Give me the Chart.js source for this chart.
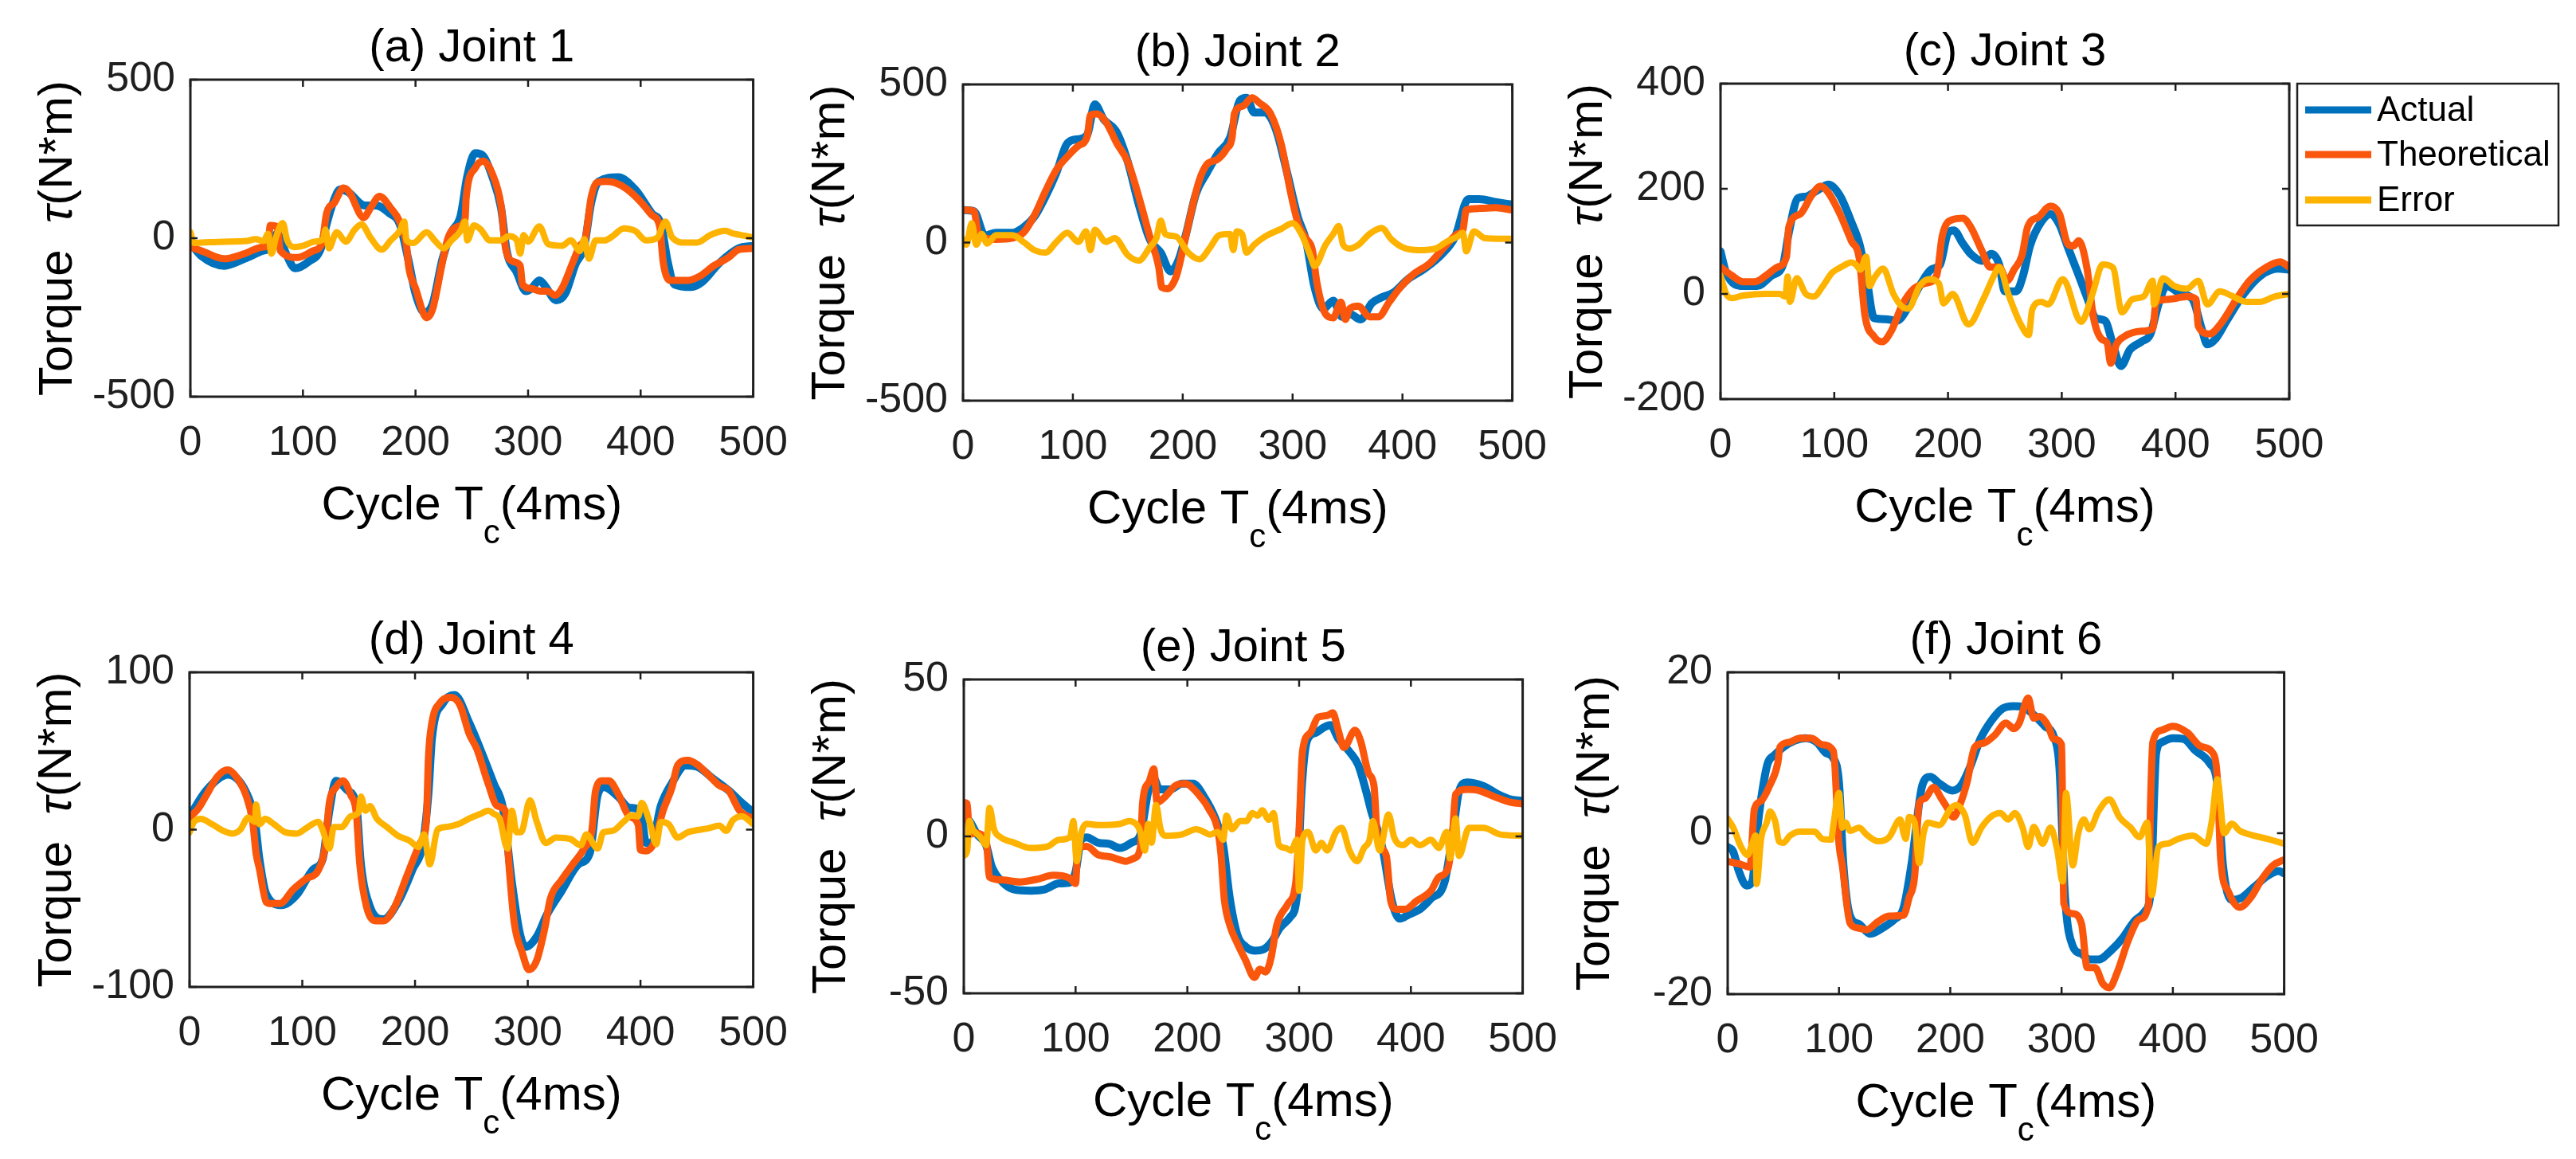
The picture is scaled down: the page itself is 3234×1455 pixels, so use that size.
<!DOCTYPE html>
<html>
<head>
<meta charset="utf-8">
<script src="https://cdn.jsdelivr.net/npm/chart.js@4.4.1/dist/chart.umd.min.js"></script>
<style>
    html, body { margin: 0; background: #fff; }
    #fig { position: relative; width: 3234px; height: 1455px; overflow: hidden; background: #fff; }
    #fig canvas { position: absolute; }
</style>
</head>
<body>
<div id="fig"></div>
<script>
// ---- data: [cycle, torque] ----
const xTicks = [0, 100, 200, 300, 400, 500];
const seriesNames = ['Actual', 'Theoretical', 'Error'];
const seriesColors = ['#0072BD', '#FA560C', '#FDB300'];
const panelTitles = ['(a) Joint 1', '(b) Joint 2', '(c) Joint 3', '(d) Joint 4', '(e) Joint 5', '(f) Joint 6'];
const yTicks1 = [-500, 0, 500];
const yTicks2 = [-500, 0, 500];
const yTicks3 = [-200, 0, 200, 400];
const yTicks4 = [-100, 0, 100];
const yTicks5 = [-50, 0, 50];
const yTicks6 = [-20, 0, 20];

const j1Actual = [[0,-15],[10,-57],[30,-87],[48,-65],[64,-40],[70,-32],[77,14],[85,-49],[93,-95],[105,-74],[116,-32],[121,44],[128,124],[133,154],[140,146],[155,103],[165,103],[177,78],[186,44],[194,-74],[200,-175],[208,-234],[215,-209],[224,-65],[232,19],[240,70],[246,196],[253,268],[260,260],[268,196],[276,95],[281,-40],[290,-108],[298,-167],[303,-159],[310,-133],[315,-150],[325,-196],[333,-175],[342,-83],[350,-24],[356,111],[363,179],[380,192],[395,154],[410,78],[418,44],[424,-74],[430,-146],[445,-154],[455,-137],[470,-78],[487,-32],[500,-24]];
const j1Theo = [[0,-28],[10,-40],[30,-65],[48,-49],[64,-28],[69,-24],[71,40],[77,36],[80,-40],[95,-61],[109,-40],[117,-15],[121,78],[128,112],[136,158],[141,146],[154,65],[160,95],[168,132],[178,95],[186,52],[192,-24],[194,-91],[200,-158],[210,-251],[215,-226],[224,-74],[229,2],[237,36],[244,61],[245,128],[253,221],[260,243],[268,205],[276,103],[280,-32],[287,-74],[293,-87],[295,-146],[303,-159],[311,-167],[317,-167],[324,-180],[330,-159],[340,-74],[346,-24],[351,2],[356,128],[361,175],[369,179],[377,175],[388,154],[401,111],[410,73],[417,36],[420,-74],[426,-133],[442,-133],[452,-121],[465,-87],[478,-61],[487,-36],[500,-32]];
const j1Err = [[0,19],[3,-15],[10,-14],[30,-11],[50,-9],[58,-3],[65,-9],[69,14],[72,-49],[76,2],[82,48],[86,-7],[92,-28],[100,-24],[110,-11],[118,-3],[120,27],[123,-32],[130,19],[138,-11],[146,27],[152,44],[160,2],[170,-36],[178,-7],[186,23],[190,52],[192,-7],[198,-15],[210,19],[217,-7],[225,-32],[232,-7],[240,23],[244,52],[246,-7],[252,40],[258,27],[266,-7],[275,-7],[283,6],[290,-7],[293,-49],[296,10],[300,-11],[310,37],[318,-19],[330,-24],[338,-7],[346,-40],[350,-3],[354,-65],[360,-7],[368,-7],[375,6],[385,31],[395,23],[405,-7],[415,2],[422,52],[428,2],[440,-14],[450,-14],[462,10],[475,23],[483,14],[495,6],[500,2]];

const j2Actual = [[0,103],[10,99],[20,22],[30,31],[45,31],[55,48],[65,82],[75,145],[85,221],[95,314],[105,327],[113,340],[120,437],[128,390],[140,348],[150,255],[160,120],[170,10],[180,-32],[189,-91],[196,-57],[203,27],[212,154],[222,221],[232,281],[243,331],[252,449],[258,458],[265,411],[275,411],[285,356],[295,221],[305,78],[312,10],[320,-142],[328,-209],[337,-184],[345,-235],[352,-226],[362,-243],[372,-192],[380,-175],[392,-158],[405,-116],[420,-83],[435,-40],[448,19],[460,137],[470,137],[485,128],[500,120]];
const j2Theo = [[0,103],[10,99],[14,27],[20,14],[30,10],[45,14],[55,31],[65,86],[75,162],[85,230],[95,272],[105,306],[113,335],[116,403],[122,407],[130,382],[140,314],[150,255],[160,145],[170,19],[178,-74],[181,-142],[186,-146],[194,-108],[200,-24],[207,86],[215,196],[222,247],[232,264],[240,297],[245,335],[247,407],[255,432],[263,458],[270,441],[280,407],[290,306],[298,162],[305,61],[312,14],[318,-24],[322,-125],[330,-226],[337,-238],[344,-188],[348,-243],[352,-209],[360,-201],[370,-235],[378,-235],[388,-188],[398,-142],[410,-100],[425,-65],[440,-7],[450,27],[455,40],[458,103],[470,108],[485,110],[500,103]];
const j2Err = [[0,10],[3,-7],[8,61],[12,-7],[17,27],[22,-3],[30,23],[45,23],[55,2],[65,-24],[75,-32],[85,2],[95,31],[105,2],[112,35],[116,-24],[120,40],[130,2],[138,14],[150,-40],[160,-57],[170,-15],[176,14],[180,69],[184,27],[194,19],[205,-32],[215,-53],[225,-15],[233,23],[243,27],[246,-24],[249,35],[254,27],[258,-32],[265,-7],[275,19],[290,44],[300,61],[308,27],[316,-40],[320,-74],[330,-7],[337,27],[342,52],[346,-7],[352,-19],[360,-7],[370,27],[381,46],[390,10],[400,-15],[415,-24],[430,-19],[440,2],[450,19],[455,31],[458,-28],[465,35],[475,14],[490,12],[500,12]];

const j3Actual = [[0,81],[5,40],[20,15],[32,15],[45,35],[55,56],[60,116],[68,182],[75,185],[85,197],[95,208],[105,187],[115,137],[122,96],[128,35],[135,-46],[145,-48],[155,-51],[165,-25],[175,15],[185,46],[193,56],[200,116],[205,121],[213,96],[220,76],[230,63],[238,76],[245,56],[250,5],[260,5],[266,35],[272,91],[282,137],[290,152],[298,132],[305,91],[315,35],[322,-5],[330,-46],[338,-51],[345,-96],[352,-137],[360,-106],[370,-91],[378,-76],[385,-20],[392,15],[405,0],[415,-10],[423,-66],[428,-96],[435,-86],[445,-51],[460,0],[475,35],[490,48],[500,46]];
const j3Theo = [[0,51],[10,35],[20,23],[30,23],[40,35],[50,51],[58,71],[60,127],[70,152],[80,187],[88,205],[95,192],[105,152],[115,101],[122,67],[127,-41],[135,-81],[142,-91],[150,-71],[160,-20],[170,10],[180,20],[190,35],[195,111],[205,142],[213,144],[220,127],[230,81],[237,51],[245,51],[252,25],[258,46],[265,73],[270,127],[280,147],[290,167],[298,152],[305,96],[310,91],[315,101],[322,51],[328,-46],[335,-86],[340,-94],[343,-132],[348,-96],[355,-81],[370,-71],[380,-66],[383,-15],[395,-10],[410,-5],[418,-10],[420,-61],[430,-76],[440,-56],[455,-5],[465,25],[480,51],[492,61],[500,51]];
const j3Err = [[0,35],[5,0],[10,-8],[20,-3],[40,0],[52,0],[57,-5],[59,33],[61,-15],[67,30],[75,0],[82,-5],[90,15],[98,40],[106,51],[115,60],[119,56],[123,46],[128,71],[131,15],[135,30],[143,48],[152,0],[160,-25],[165,-28],[175,15],[183,28],[192,20],[196,-18],[204,0],[218,-58],[231,-10],[240,33],[245,51],[253,0],[264,-58],[271,-78],[274,-30],[282,-15],[288,-20],[301,28],[317,-53],[327,0],[336,56],[345,50],[353,-35],[362,-10],[372,-5],[380,25],[381,-20],[389,30],[399,15],[410,10],[420,25],[428,-20],[439,5],[449,-3],[462,-15],[474,-15],[487,-5],[500,0]];

const j4Actual = [[0,8.5],[15,25],[34,35],[50,24],[58,5],[62,-19],[68,-41],[82,-48],[95,-41.5],[110,-25],[118,-19],[124,12],[130,31],[140,25],[148,15],[152,-22],[160,-49],[172,-57],[185,-46],[198,-25],[207,-8.5],[212,24],[215,58],[225,80.5],[235,85.6],[248,68],[258,51],[270,29],[278,13.6],[286,-34],[293,-66],[298,-74.6],[308,-68],[317,-54],[330,-39],[345,-22],[355,-15],[362,22],[368,27],[380,21],[390,14],[400,12],[405,-8.5],[410,-8.5],[418,15],[428,29.7],[440,40.7],[450,40],[465,32],[478,25],[490,17],[500,11]];
const j4Theo = [[0,7.6],[8,13.6],[15,22],[25,34],[34,38],[42,33],[50,22],[56,5],[59,-15],[62,-25],[68,-46],[72,-47],[80,-47],[92,-38],[104,-31],[114,-26],[120,-12],[124,17],[130,27],[136,31],[143,22],[148,10],[151,-22],[157,-49],[165,-58],[172,-58],[182,-49],[193,-29],[205,-8],[210,5],[212,47],[215,68],[222,80.5],[232,84],[240,79],[248,61],[255,51],[265,29],[273,15],[280,12],[283,-19],[288,-59],[295,-78],[301,-89],[308,-83],[315,-63],[320,-44],[330,-32],[340,-22],[350,-12],[357,0],[360,24],[366,31],[372,31],[380,23],[390,8.5],[398,3],[400,-13],[405,-13.5],[412,-8.5],[420,12],[428,27],[433,41],[442,44],[450,41.5],[460,35],[470,28],[478,25],[488,12],[500,7]];
const j4Err = [[0,-1.7],[4,5],[10,6.8],[20,3.4],[30,-0.8],[38,-2.5],[45,0],[52,7.6],[58,5],[59,16],[62,3.4],[67,6.8],[75,3.4],[85,-1.7],[95,-2.5],[105,1.7],[114,5],[118,0],[124,-12],[128,1.7],[135,1.7],[143,8.5],[150,11],[152,21],[156,12],[160,15],[166,7],[175,1.7],[185,-4],[195,-7],[203,-11],[208,-3],[213,-22],[220,0],[228,1.7],[238,3.4],[248,7],[258,10],[265,12],[270,10],[275,7],[282,-12],[286,12],[290,-1.7],[294,-1.7],[302,18.6],[308,5],[316,-8.5],[325,-5],[338,-6],[347,-10],[352,-3],[362,-12],[367,-1.7],[375,-0.8],[385,5],[392,9],[398,8.5],[401,17],[408,5],[414,-9.3],[418,5],[425,3.4],[433,-5],[442,-1.7],[460,0.8],[470,2.5],[476,-0.8],[482,6],[490,8.5],[500,3.4]];

const j5Actual = [[0,5.7],[5,4.9],[12,0.6],[20,-2.8],[25,-9.6],[35,-14.7],[45,-16.9],[60,-17.3],[72,-16.9],[85,-15],[95,-14.7],[100,-11.3],[105,-1.1],[110,-0.3],[120,-2],[130,-2.4],[140,-3.7],[150,-2],[158,0.6],[165,14.3],[170,18.5],[175,15],[185,15],[195,16.8],[205,16.8],[215,12.6],[225,5.7],[232,-2.8],[238,-19.8],[245,-31.7],[252,-35.1],[260,-36.4],[268,-36],[275,-33.8],[283,-29.1],[292,-25.7],[298,-18.9],[302,13.4],[307,30.4],[315,33],[322,34.7],[328,35.5],[335,31.2],[345,27],[353,22.7],[360,14.3],[365,7.4],[370,2.3],[375,-4.5],[383,-20.6],[390,-26.2],[398,-24.9],[408,-23.2],[418,-19.8],[430,-14.7],[438,2.3],[443,14.3],[450,17.2],[465,16],[478,13.4],[490,11.7],[500,11.3]];
const j5Theo = [[0,10.8],[3,10.4],[5,0.6],[10,1],[20,-1],[23,-13],[35,-13.9],[50,-14.5],[65,-13.7],[80,-12.4],[95,-13.4],[100,-15],[102,-3.6],[110,-3.2],[120,-5.8],[132,-6.6],[145,-7.9],[152,-7],[158,-3.6],[160,10.8],[166,17.6],[170,21.5],[173,10.8],[180,12.6],[190,16.3],[198,16.8],[210,13.4],[220,8.3],[227,2.3],[230,-5.4],[233,-19.8],[238,-28.3],[245,-34.3],[252,-39.4],[260,-44.9],[265,-42.3],[270,-43.2],[275,-38.5],[280,-28.3],[290,-21.5],[297,-14.7],[300,2.3],[303,27],[310,33],[317,38],[325,38.5],[330,39.4],[335,33.8],[340,28.3],[350,33.8],[355,30.4],[362,20.2],[367,16],[370,-0.3],[378,-6.2],[382,-20.6],[387,-23.2],[395,-23.2],[405,-20.6],[418,-17.3],[425,-13],[433,-10.4],[437,-0.3],[440,13.4],[450,15],[460,14.7],[475,12.6],[490,10.8],[500,10.4]];
const j5Err = [[0,-6.2],[3,-4.5],[5,4.9],[8,2.3],[15,-0.3],[20,-2.8],[23,9.1],[27,2.3],[33,-0.3],[45,-2],[60,-3.7],[75,-3.2],[85,-1.1],[95,-0.3],[98,4.9],[101,-7.9],[105,1],[110,4],[120,3.6],[140,4],[148,4.9],[155,3.6],[158,1.4],[162,-4.5],[165,4],[168,-2],[172,10],[176,2.3],[180,0.2],[195,0.6],[208,2.3],[215,1.4],[220,0.6],[227,1.4],[232,-1.1],[235,6.6],[240,2.3],[247,4.9],[253,4.9],[258,7.4],[263,6.6],[267,8.3],[273,5.3],[277,7.4],[282,-2.8],[288,-3.7],[293,-4.5],[298,-1.1],[300,-17.3],[303,-1.1],[308,1.4],[315,-4.5],[320,-2],[325,-4.5],[333,1.4],[338,2.7],[345,-4.5],[352,-7.9],[358,-3.7],[363,-1.1],[366,4.9],[372,-4.5],[380,7],[385,-0.3],[393,-2.8],[400,-1.1],[408,-2.8],[418,-1.1],[425,-3.7],[432,1.4],[435,-7],[440,5.7],[443,-6.2],[452,2.7],[465,2.7],[480,0.6],[500,0.2]];

const j6Actual = [[0,-1.7],[5,-2.3],[10,-4.7],[17,-6.5],[22,-6],[27,1],[32,6],[36,8.7],[42,9.7],[50,10.7],[60,11.5],[70,11.8],[80,11.3],[88,10],[95,9.3],[100,6.3],[104,-4],[110,-10.3],[118,-11.3],[128,-12.5],[140,-11.7],[150,-10.7],[158,-9.3],[165,-4],[175,6],[182,7],[190,6.2],[202,5.3],[210,6],[218,8.3],[227,11.7],[237,14],[247,15.5],[257,15.8],[265,15.7],[275,14.7],[285,13.3],[293,12],[298,8.3],[303,-7.7],[310,-14],[318,-15],[325,-15.7],[333,-15.7],[345,-14.5],[355,-13],[365,-11],[375,-9.7],[380,-7.3],[385,10],[390,11.3],[400,11.8],[410,11.7],[420,10.3],[433,8.7],[440,6],[445,-4],[453,-8.3],[462,-8],[473,-6.7],[485,-5.3],[495,-4.7],[500,-5]];
const j6Theo = [[0,-3.5],[10,-3.8],[20,-4.2],[24,3],[30,4],[38,6],[45,8.7],[47,10.7],[55,11.3],[65,11.8],[75,11.8],[85,11],[95,10.2],[100,-1.3],[103,-4],[110,-11.2],[118,-11.8],[125,-12],[135,-11],[145,-10.3],[158,-10.2],[163,-8],[168,-5.3],[172,3.7],[177,4.3],[185,5.7],[192,4.3],[198,3],[203,2],[208,3.3],[215,6.3],[222,10.7],[230,11.2],[240,12.2],[250,13.7],[257,13],[262,13.7],[270,16.8],[275,14.3],[280,14.5],[288,13.3],[293,11.7],[300,11],[302,-8.7],[310,-10],[318,-11.3],[323,-16.7],[330,-16.7],[337,-18.7],[343,-19.2],[350,-17.3],[360,-13.3],[370,-10.7],[378,-9],[380,4],[382,11.3],[390,12.8],[400,13.3],[413,12.5],[425,10.8],[437,9.7],[440,6.7],[443,-3.3],[450,-7.3],[460,-9.2],[470,-8],[480,-5.7],[490,-4],[500,-3.3]];
const j6Err = [[0,1.8],[5,0.7],[12,-1.7],[18,-2.7],[22,-1.3],[25,-0.3],[26,-6.3],[30,-0.7],[35,1.3],[38,2.7],[43,1.3],[46,-1],[50,-1.2],[56,-0.3],[65,0.2],[78,0.2],[85,-0.7],[93,-0.8],[95,1],[100,5],[103,0.7],[106,1.3],[110,0.3],[118,0.7],[125,-0.2],[135,-1],[145,-0.5],[155,1.7],[158,0],[160,-0.7],[163,2],[168,1.3],[172,-3.7],[176,0],[180,1.3],[190,1],[200,3],[205,3.5],[213,2.3],[220,-1.2],[228,0.7],[236,2],[245,2.5],[252,1.7],[258,2.5],[265,0.7],[270,-1.7],[275,0.8],[283,-1.3],[290,0.7],[296,-2],[301,-6],[304,5],[310,-4],[315,0],[320,1.7],[325,0.5],[333,2.7],[343,4.2],[352,2],[362,0.7],[370,-0.5],[377,1.3],[381,-7.7],[387,-1.7],[395,-1.3],[405,-0.7],[418,-0.3],[430,-1.3],[435,1.5],[440,6.7],[446,0],[453,1.2],[460,0.3],[470,-0.2],[485,-0.7],[500,-1.3]];

// ---- layout ----
const FONT = 'Arial, "Liberation Sans", Helvetica, sans-serif';
const INK = '#1f1f1f';
const panels = [
    { title: panelTitles[0], yTicks: yTicks1, series: [j1Actual, j1Theo, j1Err], box: [239, 100, 956, 498] },
    { title: panelTitles[1], yTicks: yTicks2, series: [j2Actual, j2Theo, j2Err], box: [1209, 106, 1909, 503] },
    { title: panelTitles[2], yTicks: yTicks3, series: [j3Actual, j3Theo, j3Err], box: [2160, 105, 2874, 501], legend: true },
    { title: panelTitles[3], yTicks: yTicks4, series: [j4Actual, j4Theo, j4Err], box: [238, 844, 956, 1239] },
    { title: panelTitles[4], yTicks: yTicks5, series: [j5Actual, j5Theo, j5Err], box: [1210, 853, 1922, 1247] },
    { title: panelTitles[5], yTicks: yTicks6, series: [j6Actual, j6Theo, j6Err], box: [2169, 844, 2878, 1248] }
];

// box, inward ticks, title, axis labels (MATLAB look)
const matlabAxes = {
    id: 'matlabAxes',
    afterDraw(chart, args, opts) {
        const { ctx, chartArea: a, scales: { x, y } } = chart;
        ctx.save();
        ctx.strokeStyle = INK;
        ctx.lineWidth = 3;
        ctx.strokeRect(a.left, a.top, a.right - a.left, a.bottom - a.top);
        ctx.lineWidth = 2.5;
        ctx.beginPath();
        xTicks.forEach(v => {
            const px = x.getPixelForValue(v);
            ctx.moveTo(px, a.bottom); ctx.lineTo(px, a.bottom - 9);
            ctx.moveTo(px, a.top); ctx.lineTo(px, a.top + 9);
        });
        opts.yTicks.forEach(v => {
            const py = y.getPixelForValue(v);
            ctx.moveTo(a.left, py); ctx.lineTo(a.left + 9, py);
            ctx.moveTo(a.right, py); ctx.lineTo(a.right - 9, py);
        });
        ctx.stroke();

        const cx = (a.left + a.right) / 2;
        const cy = (a.top + a.bottom) / 2;
        ctx.fillStyle = '#000';
        ctx.textBaseline = 'alphabetic';

        // title
        ctx.font = `58px ${FONT}`;
        ctx.textAlign = 'center';
        ctx.fillText(opts.title, cx, a.top - 23);

        // x label: Cycle T_c(4ms)
        ctx.textAlign = 'left';
        const big = `60px ${FONT}`, small = `42px ${FONT}`;
        ctx.font = big;
        const w1 = ctx.measureText('Cycle T').width;
        const w3 = ctx.measureText('(4ms)').width;
        ctx.font = small;
        const w2 = ctx.measureText('c').width;
        let sx = cx - (w1 + w2 + w3) / 2;
        const by = a.bottom + 154;
        ctx.font = big; ctx.fillText('Cycle T', sx, by);
        ctx.font = small; ctx.fillText('c', sx + w1, by + 30);
        ctx.font = big; ctx.fillText('(4ms)', sx + w1 + w2, by);

        // y label: Torque  τ(N*m), rotated
        ctx.translate(a.left - 149, cy);
        ctx.rotate(-Math.PI / 2);
        const italic = `italic 60px ${FONT}`;
        ctx.font = big;
        const p1 = ctx.measureText('Torque  ').width;
        const p3 = ctx.measureText('(N*m)').width;
        ctx.font = italic;
        const p2 = ctx.measureText('τ').width;
        let ty = -(p1 + p2 + p3) / 2;
        ctx.font = big; ctx.fillText('Torque  ', ty, 0);
        ctx.font = italic; ctx.fillText('τ', ty + p1, 0);
        ctx.font = big; ctx.fillText('(N*m)', ty + p1 + p2, 0);
        ctx.restore();
    }
};

// boxed legend to the right of the plot area
const boxLegend = {
    id: 'boxLegend',
    afterDraw(chart, args, opts) {
        if (!opts.show) return;
        const { ctx, chartArea: a } = chart;
        const left = a.right + 10, top = a.top, w = 328, h = 178;
        ctx.save();
        ctx.fillStyle = '#fff';
        ctx.fillRect(left, top, w, h);
        ctx.strokeStyle = INK;
        ctx.lineWidth = 2.5;
        ctx.strokeRect(left, top, w, h);
        ctx.font = `44px ${FONT}`;
        ctx.textBaseline = 'middle';
        ctx.textAlign = 'left';
        const rows = [33, 89, 146];
        seriesNames.forEach((name, i) => {
            const ry = top + rows[i];
            ctx.strokeStyle = seriesColors[i];
            ctx.lineWidth = 9;
            ctx.beginPath();
            ctx.moveTo(left + 10, ry); ctx.lineTo(left + 93, ry);
            ctx.stroke();
            ctx.fillStyle = '#000';
            ctx.fillText(name, left + 100, ry + 2);
        });
        ctx.restore();
    }
};

const fig = document.getElementById('fig');
const widths = [10, 9, 8];
const orders = [3, 2, 1];

panels.forEach(p => {
    const [L, T, R, B] = p.box;
    const m = { left: 260, top: 120, right: p.legend ? 360 : 60, bottom: 190 };
    const canvas = document.createElement('canvas');
    canvas.width = R - L + m.left + m.right;
    canvas.height = B - T + m.top + m.bottom;
    canvas.style.left = (L - m.left) + 'px';
    canvas.style.top = (T - m.top) + 'px';
    fig.appendChild(canvas);

    const yMin = p.yTicks[0], yMax = p.yTicks[p.yTicks.length - 1];
    new Chart(canvas.getContext('2d'), {
        type: 'line',
        data: {
            datasets: p.series.map((pts, i) => ({
                label: seriesNames[i],
                data: pts.map(([x, y]) => ({ x, y })),
                borderColor: seriesColors[i],
                borderWidth: widths[i],
                pointRadius: 0,
                cubicInterpolationMode: 'monotone',
                borderJoinStyle: 'round',
                borderCapStyle: 'round',
                order: orders[i]
            }))
        },
        options: {
            responsive: false,
            animation: false,
            devicePixelRatio: 1,
            layout: { padding: { left: 0, top: m.top, right: m.right, bottom: 0 } },
            plugins: {
                legend: { display: false },
                tooltip: { enabled: false },
                matlabAxes: { title: p.title, yTicks: p.yTicks },
                boxLegend: { show: !!p.legend }
            },
            scales: {
                x: {
                    type: 'linear', min: 0, max: 500,
                    grid: { display: false, drawTicks: false, tickLength: 0 },
                    border: { display: false },
                    afterBuildTicks: s => { s.ticks = xTicks.map(v => ({ value: v })); },
                    afterFit: s => { s.height = m.bottom; },
                    ticks: { color: INK, font: { family: FONT, size: 52 }, padding: 27, maxRotation: 0, autoSkip: false }
                },
                y: {
                    type: 'linear', min: yMin, max: yMax,
                    grid: { display: false, drawTicks: false, tickLength: 0 },
                    border: { display: false },
                    afterBuildTicks: s => { s.ticks = p.yTicks.map(v => ({ value: v })); },
                    afterFit: s => { s.width = m.left; },
                    ticks: { color: INK, font: { family: FONT, size: 52 }, padding: 19, autoSkip: false }
                }
            }
        },
        plugins: [matlabAxes, boxLegend]
    });
});
</script>
</body>
</html>
